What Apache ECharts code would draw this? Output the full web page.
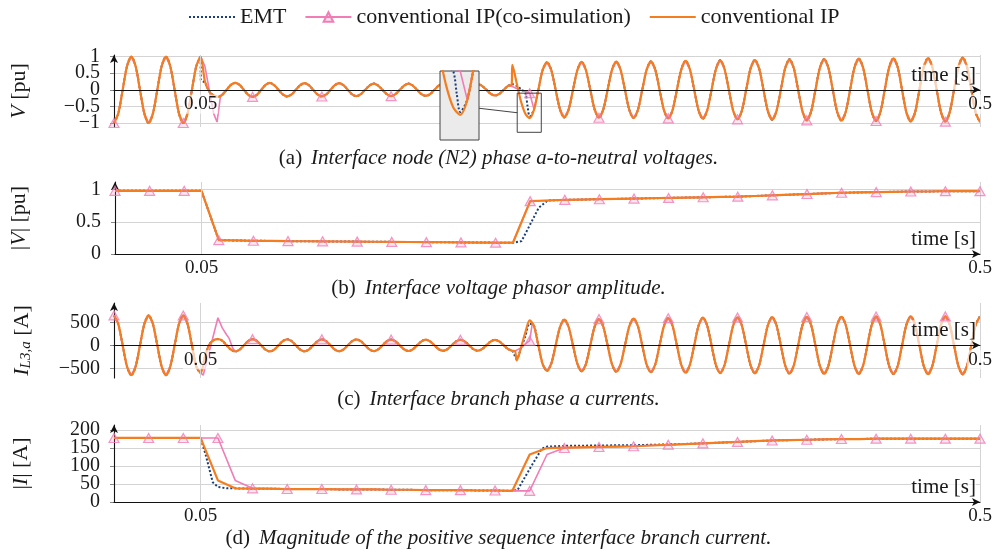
<!DOCTYPE html>
<html>
<head>
<meta charset="utf-8">
<script src="https://cdn.jsdelivr.net/npm/echarts@6/dist/echarts.min.js"></script>
<style>html,body{margin:0;padding:0;background:#fff}#c{width:997px;height:550px}</style>
</head>
<body>
<div id="c"></div>
<script>
// ---------------- DATA ----------------
const WAVE_STEP = 0.0025;   // sample step of the instantaneous waveforms [s]
const PHASOR_STEP = 0.01;   // sample step of the phasor amplitudes [s]

const SERIES_NAMES = ['EMT', 'conventional IP(co-simulation)', 'conventional IP'];

// (a) phase a-to-neutral voltage [pu], conventional IP
const convV = [
 -1,-0.71,0,0.71,1,0.71,0,-0.71,
 -1,-0.71,0,0.71,1,0.71,0,-0.71,
 -1,-0.71,0,0.71,1,
 0.25,-0.05,-0.17,-0.21,-0.15,0,0.15,0.21,
 0.15,0,-0.15,-0.21,-0.15,0,0.15,0.21,
 0.14,0,-0.14,-0.2,-0.14,0,0.14,0.2,
 0.14,0,-0.14,-0.2,-0.14,0,0.14,0.2,
 0.14,0,-0.14,-0.19,-0.13,0,0.13,0.19,
 0.13,0,-0.13,-0.19,-0.13,0,0.13,0.19,
 0.13,0,-0.13,-0.18,-0.13,0,0.13,0.18,
 0.12,0,-0.12,-0.18,-0.12,0,0.12,0.17,
 0.12,0,-0.12,-0.17,-0.12,0,0.12,
 0.75,0.2,-0.35,-0.72,-0.85,-0.6,0,0.6,
 0.83,0.59,0,-0.59,-0.83,-0.59,0,0.59,
 0.84,0.59,0,-0.59,-0.84,-0.59,0,0.6,
 0.85,0.6,0,-0.6,-0.85,-0.6,0,0.6,
 0.86,0.61,0,-0.61,-0.86,-0.61,0,0.61,
 0.87,0.62,0,-0.62,-0.87,-0.62,0,0.62,
 0.89,0.63,0,-0.63,-0.89,-0.63,0,0.64,
 0.9,0.64,0,-0.64,-0.9,-0.64,0,0.65,
 0.92,0.65,0,-0.65,-0.92,-0.65,0,0.66,
 0.93,0.66,0,-0.66,-0.93,-0.66,0,0.67,
 0.94,0.67,0,-0.67,-0.94,-0.67,0,0.67,
 0.95,0.68,0,-0.68,-0.95,-0.68,0,0.68,
 0.96,0.68,0,-0.68,-0.96,-0.68,0,0.69,
 0.97,0.69,0,-0.69,-0.97
];
const convVExtra = [[0.2296, 0.16]];
const emtVPatch = [
 [[0.05,1],[0.0501,0.3],[0.0525,0.22],[0.055,-0.05]],
 [[0.2275,0.12],[0.23,0.17],[0.2325,0.12],[0.235,0.02],[0.2375,-0.1],[0.2388,-0.5],[0.24,-0.8],[0.2425,-0.59]]
];
const cosimVPatch = [
 [[0.05,1],[0.0525,0.71],[0.055,0],[0.0575,-0.71],[0.0595,-0.97],[0.0615,-0.18],[0.0625,-0.15]],
 [[0.2275,0.12],[0.23,0.1],[0.2325,0.04],[0.235,-0.01],[0.2375,-0.05],[0.24,-0.1],[0.2425,-0.59],[0.245,0]]
];

// (b) interface voltage phasor amplitude [pu]
const convVmag = [
 0.98,0.98,0.98,0.98,0.98,0.98,
 0.215,0.21,0.205,0.203,0.2,0.198,0.196,0.194,0.192,0.19,0.188,0.186,0.184,0.182,0.18,0.178,0.176,0.175,
 0.82,0.83,0.84,0.845,0.85,0.855,0.86,0.865,0.87,0.875,0.88,0.885,0.89,0.9,0.91,0.92,0.93,0.94,0.95,0.955,0.96,0.965,0.97,0.97,0.975,0.975,0.975
];
const emtVmagPatch = [[[0.23,0.175],[0.235,0.2],[0.245,0.72],[0.25,0.83]]];
const cosimVmagPatch = [];

// (c) interface branch phase a current [A]
const convI = [
 650,460,0,-460,-650,-460,0,460,
 650,460,0,-460,-650,-460,0,460,
 650,460,0,-460,-600,
 -250,20,110,135,100,0,-95,-135,
 -95,0,95,134,95,0,-95,-134,
 -94,0,94,132,93,0,-93,-131,
 -92,0,92,130,92,0,-92,-129,
 -91,0,91,128,90,0,-90,-127,
 -89,0,89,125,88,0,-88,-124,
 -87,0,87,122,86,0,-86,-121,
 -85,0,85,120,84,0,-84,-118,
 -83,0,83,117,82,0,-82,
 -120,-330,-50,280,540,420,0,-410,
 -555,-394,0,396,560,398,0,-400,
 -565,-402,0,405,570,406,0,-408,
 -575,-410,0,413,580,414,0,-417,
 -585,-417,0,420,590,421,0,-423,
 -595,-424,0,426,600,427,0,-429,
 -603,-429,0,431,606,432,0,-433,
 -609,-434,0,435,612,436,0,-437,
 -615,-438,0,439,617,440,0,-441,
 -619,-441,0,442,621,442,0,-443,
 -623,-443,0,444,625,444,0,-445,
 -626,-445,0,445,627,446,0,-446,
 -628,-446,0,447,629,447,0,-447,
 -630,-447,0,447,630
];
const convIExtra = [[0.2315,-125]];
const emtIPatch = [[[0.23,-120],[0.2325,-300],[0.235,-60],[0.2375,200],[0.24,470],[0.2425,425]]];
const cosimIPatch = [
 [[0.05,-600],[0.0515,-650],[0.06,600],[0.0625,380],[0.065,230],[0.0665,150],[0.0685,-60],[0.07,-135]],
 [[0.23,-120],[0.2315,-125],[0.235,-60],[0.2375,30],[0.24,100],[0.2415,470],[0.2425,420]]
];

// (d) positive sequence branch current magnitude [A]
const convImag = [
 178,178,178,178,178,178,
 60,38,37,37,36,36,36,35,35,35,34,34,33,33,33,32,32,31,
 132,150,151,152,153,154,155,157,159,161,163,165,167,169,171,172,173,174,175,175,176,176,176,176,176,176,176
];
const emtImagPatch = [
 [[0.05,178],[0.053,130],[0.057,55],[0.06,42],[0.065,38],[0.07,38]],
 [[0.23,31],[0.233,33],[0.24,92],[0.247,148],[0.25,154],[0.26,156],[0.28,157],[0.3,158],[0.32,160],[0.34,163]]
];
const cosimImagPatch = [
 [[0.05,178],[0.06,178],[0.07,60],[0.08,38]],
 [[0.23,31],[0.24,31],[0.25,132],[0.26,150]]
];

// marker times of the co-simulation curve
const markTimesWave = [0,0.04,0.08,0.12,0.16,0.2,0.24,0.28,0.32,0.36,0.4,0.44,0.48];
const markTimesPhasor = [0,0.02,0.04,0.06,0.08,0.1,0.12,0.14,0.16,0.18,0.2,0.22,0.24,0.26,0.28,0.3,0.32,0.34,0.36,0.38,0.4,0.42,0.44,0.46,0.48,0.5];

// ticks
const xTicks = [0.05, 0.5];
const xTickLabels = ['0.05', '0.5'];
const vTicks = [-1, -0.5, 0, 0.5, 1];
const vTickLabels = ['\u22121', '\u22120.5', '0', '0.5', '1'];
const vmagTicks = [0, 0.5, 1];
const vmagTickLabels = ['0', '0.5', '1'];
const iTicks = [-500, 0, 500];
const iTickLabels = ['\u2212500', '0', '500'];
const imagTicks = [0, 50, 100, 150, 200];
const imagTickLabels = ['0', '50', '100', '150', '200'];

// zoomed window (spy) of panel (a)
const spyT = [0.2328, 0.2467];
const spyV = [-1.28, -0.1];

const captionTags = ['(a)', '(b)', '(c)', '(d)'];
const captions = [
 'Interface node (N2) phase a-to-neutral voltages.',
 'Interface voltage phasor amplitude.',
 'Interface branch phase a currents.',
 'Magnitude of the positive sequence interface branch current.'
];

// ---------------- HELPERS ----------------
function toPts(vals, step) { return vals.map((v, i) => [Math.round(i * step * 1e5) / 1e5, v]); }
function withExtra(pts, extra) { return pts.concat(extra).sort((a, b) => a[0] - b[0]); }
function patched(pts, patches) {
  let out = pts.slice();
  patches.forEach(p => {
    const t0 = p[0][0], t1 = p[p.length - 1][0];
    out = out.filter(q => q[0] < t0 - 1e-9 || q[0] > t1 + 1e-9).concat(p);
  });
  return out.sort((a, b) => a[0] - b[0]);
}
function marks(pts, times) { return times.map(t => pts.find(q => Math.abs(q[0] - t) < 1e-6)).filter(Boolean); }

const vConv = withExtra(toPts(convV, WAVE_STEP), convVExtra);
const vEmt = patched(vConv, emtVPatch);
const vCosim = patched(vConv, cosimVPatch);
const vmConv = toPts(convVmag, PHASOR_STEP);
const vmEmt = patched(vmConv, emtVmagPatch);
const vmCosim = patched(vmConv, cosimVmagPatch);
const iConv = withExtra(toPts(convI, WAVE_STEP), convIExtra);
const iEmt = patched(iConv, emtIPatch);
const iCosim = patched(iConv, cosimIPatch);
const imConv = toPts(convImag, PHASOR_STEP);
const imEmt = patched(imConv, emtImagPatch);
const imCosim = patched(imConv, cosimImagPatch);

// ---------------- STYLE ----------------
const FONT = '"Liberation Serif", "DejaVu Serif", serif';
const TXT = '#1a1a1a';
const ORANGE = '#f47d20';
const PINK = '#f07db5';
const NAVY = '#1b3f7c';
const GRIDC = '#d4d4d4';

const panels = [
  { top: 55, height: 72, min: -1.12, max: 1.05, ticks: vTicks, labels: vTickLabels, name: '{i|V} [pu]', nameGap: 84,
    emt: vEmt, cosim: vCosim, conv: vConv, markT: markTimesWave, smooth: 0.3 },
  { top: 182, height: 72, min: 0, max: 1.117, ticks: vmagTicks, labels: vmagTickLabels, name: '|{i|V}| [pu]', nameGap: 85,
    emt: vmEmt, cosim: vmCosim, conv: vmConv, markT: markTimesPhasor, smooth: false },
  { top: 303, height: 75, min: -711, max: 920, ticks: iTicks, labels: iTickLabels, name: '{i|I}{s|L3,a} [A]', nameGap: 80,
    emt: iEmt, cosim: iCosim, conv: iConv, markT: markTimesWave, smooth: 0.3 },
  { top: 425, height: 77, min: 0, max: 214, ticks: imagTicks, labels: imagTickLabels, name: '|{i|I}| [A]', nameGap: 82,
    emt: imEmt, cosim: imCosim, conv: imConv, markT: markTimesPhasor, smooth: false }
];
const captionTops = [143, 273, 384, 523];

function labelFor(ticks, labels) {
  return v => { const k = ticks.findIndex(t => Math.abs(t - v) < 1e-9); return k >= 0 ? labels[k] : ''; };
}

const grid = [], xAxis = [], yAxis = [], series = [], title = [];
panels.forEach((p, gi) => {
  grid.push({ left: 114, width: 866, top: p.top, height: p.height, containLabel: false });
  // x axis sits on the y = 0 line of its panel
  const zeroOffset = -p.height * (0 - p.min) / (p.max - p.min);
  xAxis.push({
    type: 'value', gridIndex: gi, min: 0, max: 0.5, position: 'bottom', offset: zeroOffset,
    axisLine: { show: true, onZero: false, lineStyle: { color: '#111', width: 1.1 }, symbol: ['none', 'arrow'], symbolSize: [6, 8] },
    axisTick: { show: false, customValues: xTicks },
    axisLabel: { customValues: xTicks, formatter: labelFor(xTicks, xTickLabels), fontFamily: FONT, fontSize: 19, color: TXT, margin: 5,
                 backgroundColor: 'rgba(255,255,255,0.65)', padding: [0, 1], showMinLabel: true, showMaxLabel: true },
    splitLine: { show: true, lineStyle: { color: GRIDC, width: 1 } },
    name: 'time [s]', nameLocation: 'end', nameGap: -4,
    nameTextStyle: { fontFamily: FONT, fontSize: 21, color: TXT, align: 'right', verticalAlign: 'bottom',
                     padding: [0, 0, 4, 0], backgroundColor: 'rgba(255,255,255,0.65)' },
    z: 4
  });
  // two y axes share each panel: one labels the even ticks, the other the odd ones,
  // so that closely spaced labels are all drawn
  const evenT = p.ticks.filter((_, k) => k % 2 === 0), oddT = p.ticks.filter((_, k) => k % 2 === 1);
  [evenT, oddT].forEach((tk, half) => {
    yAxis.push({
      type: 'value', gridIndex: gi, min: p.min, max: p.max, position: 'left',
      axisLine: { show: half === 0, onZero: false, lineStyle: { color: '#111', width: 1.1 }, symbol: ['none', 'arrow'], symbolSize: [6, 8] },
      axisTick: { show: true, customValues: tk, length: 4, lineStyle: { color: '#888' } },
      axisLabel: { customValues: tk, formatter: labelFor(p.ticks, p.labels), fontFamily: FONT, fontSize: 20, color: TXT, margin: 14,
                   showMinLabel: true, showMaxLabel: true, hideOverlap: false },
      splitLine: { show: true, lineStyle: { color: GRIDC, width: 1 } },
      name: half === 0 ? p.name : '', nameLocation: 'middle', nameGap: p.nameGap, nameRotate: 90,
      nameTextStyle: { fontFamily: FONT, fontSize: 22, color: TXT,
        rich: { i: { fontFamily: FONT, fontSize: 22, fontStyle: 'italic', color: TXT },
                s: { fontFamily: FONT, fontSize: 15, fontStyle: 'italic', color: TXT, verticalAlign: 'bottom', padding: [9, 0, 0, 0] } } }
    });
  });
  const yi = 2 * gi;
  series.push({ name: SERIES_NAMES[0], type: 'line', xAxisIndex: gi, yAxisIndex: yi, data: p.emt, symbol: 'none', smooth: p.smooth,
    lineStyle: { color: NAVY, width: 2, type: 'dotted' }, itemStyle: { color: NAVY }, z: 2, silent: true });
  series.push({ name: SERIES_NAMES[1], type: 'line', xAxisIndex: gi, yAxisIndex: yi, data: p.cosim, symbol: 'triangle', symbolSize: [10, 9],
    showSymbol: false, smooth: false,
    lineStyle: { color: PINK, width: 1.6 }, itemStyle: { color: 'rgba(240,125,181,0.25)', borderColor: PINK, borderWidth: 1.2 }, z: 2, silent: true });
  series.push({ name: SERIES_NAMES[2], type: 'line', xAxisIndex: gi, yAxisIndex: yi, data: p.conv, symbol: 'none', smooth: p.smooth,
    lineStyle: { color: ORANGE, width: 2.2 }, itemStyle: { color: ORANGE }, z: 3, silent: true });
  series.push({ name: 'cosim-marks', type: 'scatter', xAxisIndex: gi, yAxisIndex: yi, data: marks(p.cosim, p.markT),
    symbol: 'triangle', symbolSize: [10, 9],
    itemStyle: { color: 'rgba(240,125,181,0.25)', borderColor: PINK, borderWidth: 1.2 }, z: 4, silent: true });
  title.push({
    text: '{n|' + captionTags[gi] + '}  {i|' + captions[gi] + '}', left: 'center', top: captionTops[gi],
    textStyle: { fontWeight: 'normal',
      rich: { n: { fontFamily: FONT, fontSize: 21, fontWeight: 'normal', color: TXT },
              i: { fontFamily: FONT, fontSize: 21, fontWeight: 'normal', fontStyle: 'italic', color: TXT } } }
  });
});

// spy inset grid (index 4)
grid.push({ left: 440, top: 71, width: 39, height: 69, show: true, backgroundColor: '#ebebeb', borderColor: '#444', borderWidth: 1, z: 10 });
xAxis.push({ type: 'value', gridIndex: 4, min: spyT[0], max: spyT[1], show: false });
yAxis.push({ type: 'value', gridIndex: 4, min: spyV[0], max: spyV[1], show: false });
const insetX = xAxis.length - 1, insetY = yAxis.length - 1;
series.push({ name: SERIES_NAMES[0], type: 'line', xAxisIndex: insetX, yAxisIndex: insetY, data: vEmt, symbol: 'none', smooth: 0.3,
  lineStyle: { color: NAVY, width: 2, type: 'dotted' }, z: 11, silent: true });
series.push({ name: SERIES_NAMES[1], type: 'line', xAxisIndex: insetX, yAxisIndex: insetY, data: vCosim, symbol: 'none', smooth: false,
  lineStyle: { color: PINK, width: 1.6 }, z: 11, silent: true });
series.push({ name: SERIES_NAMES[2], type: 'line', xAxisIndex: insetX, yAxisIndex: insetY, data: vConv, symbol: 'none', smooth: 0.3,
  lineStyle: { color: ORANGE, width: 2.2 }, z: 12, silent: true });

const chart = echarts.init(document.getElementById('c'), null, { renderer: 'canvas' });
chart.setOption({
  animation: false,
  backgroundColor: '#fff',
  textStyle: { fontFamily: FONT },
  legend: {
    data: [
      { name: SERIES_NAMES[0], itemStyle: { opacity: 0 } },
      { name: SERIES_NAMES[1] },
      { name: SERIES_NAMES[2], itemStyle: { opacity: 0 } }
    ],
    top: 1, left: 183, itemWidth: 46, itemHeight: 12, itemGap: 18,
    textStyle: { fontFamily: FONT, fontSize: 22, color: TXT }
  },
  title, grid, xAxis, yAxis, series
});

// spy box in panel (a) and connector to the inset
const p0 = chart.convertToPixel({ xAxisIndex: 0, yAxisIndex: 0 }, [spyT[0], spyV[1]]);
const p1 = chart.convertToPixel({ xAxisIndex: 0, yAxisIndex: 0 }, [spyT[1], spyV[0]]);
const inset = { x: 440, y: 71, w: 39, h: 69 };
chart.setOption({
  graphic: [
    { type: 'rect', shape: { x: p0[0], y: p0[1], width: p1[0] - p0[0], height: p1[1] - p0[1] },
      style: { fill: null, stroke: '#444', lineWidth: 1 }, z: 20, silent: true },
    { type: 'line', shape: { x1: inset.x + inset.w, y1: inset.y + inset.h * 0.54, x2: p0[0], y2: (p0[1] + p1[1]) / 2 },
      style: { stroke: '#444', lineWidth: 1 }, z: 20, silent: true }
  ]
});
</script>
</body>
</html>
